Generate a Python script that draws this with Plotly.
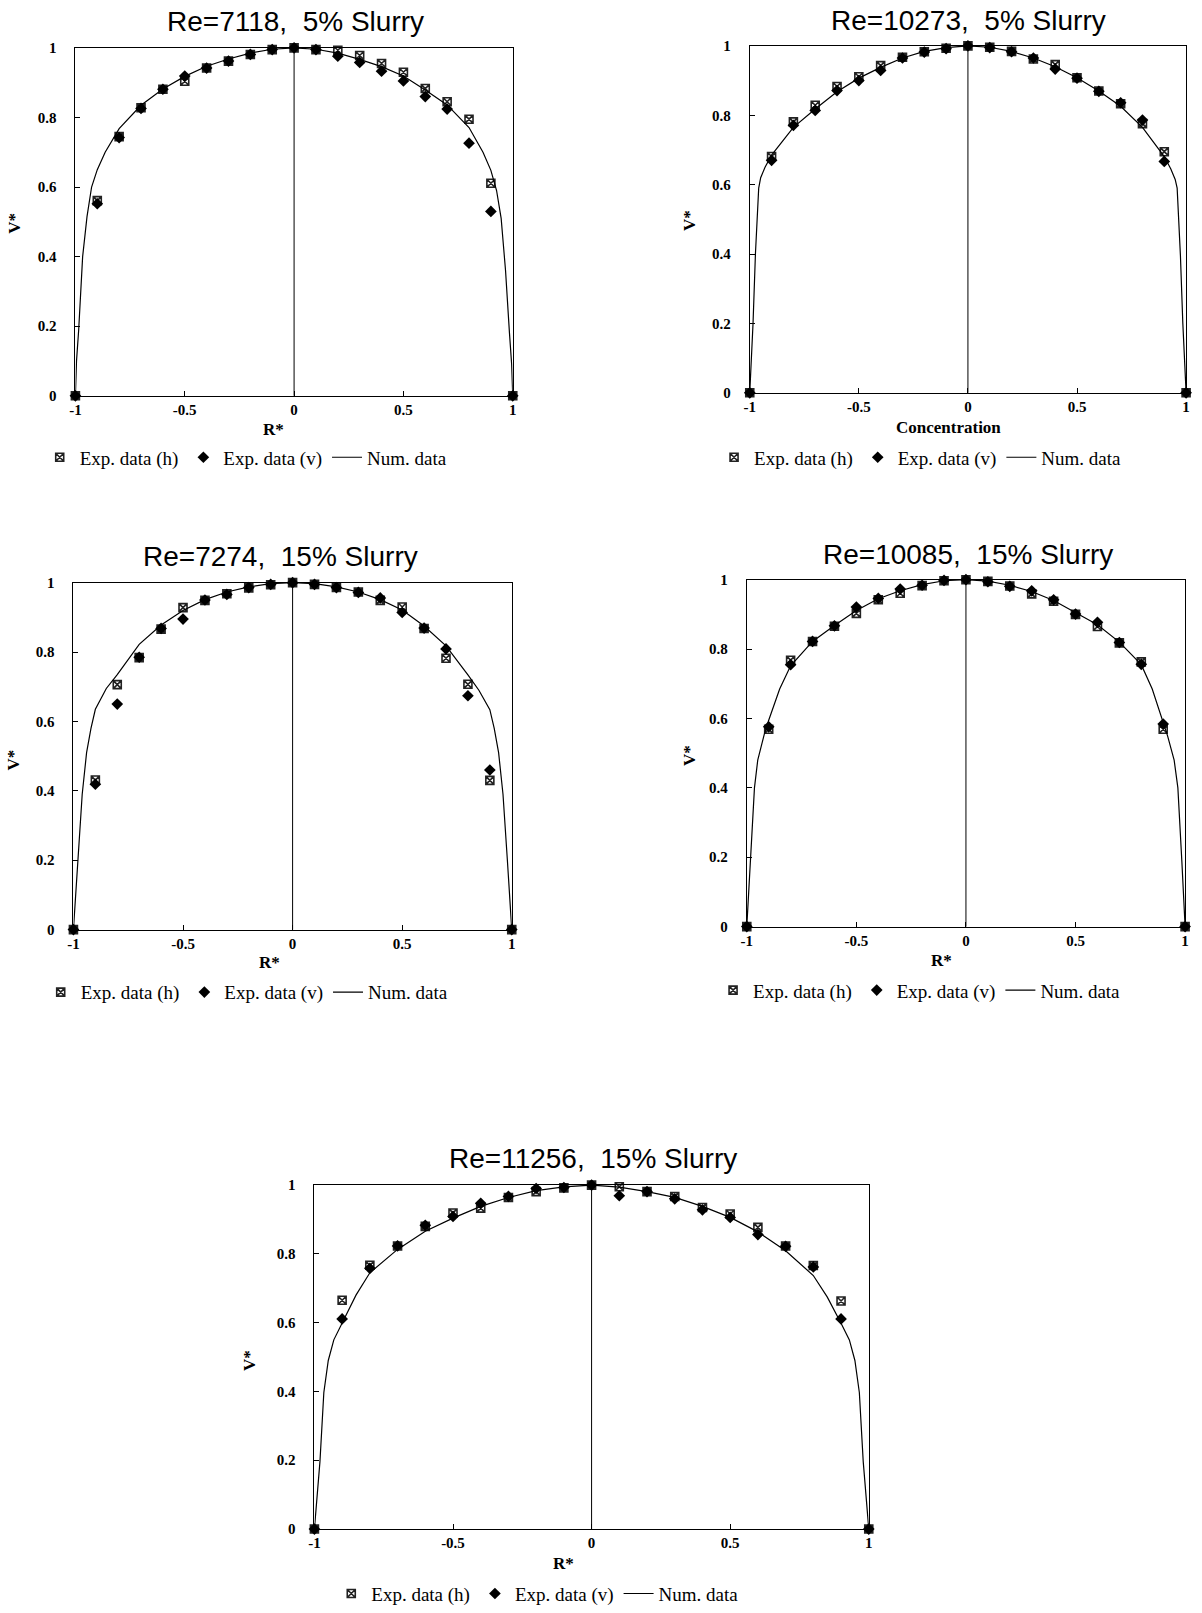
import plotly.graph_objects as go

W, H = 1202, 1613

# ---------------- data ----------------
r_exp = [-1.0, -0.9, -0.8, -0.7, -0.6, -0.5, -0.4, -0.3, -0.2, -0.1, 0.0,
         0.1, 0.2, 0.3, 0.4, 0.5, 0.6, 0.7, 0.8, 0.9, 1.0]

x_ticks = [-1, -0.5, 0, 0.5, 1]
x_ticktext = ["-1", "-0.5", "0", "0.5", "1"]
y_ticks = [0, 0.2, 0.4, 0.6, 0.8, 1]
y_ticktext = ["0", "0.2", "0.4", "0.6", "0.8", "1"]

titles = ["Re=7118,\u00a0 5% Slurry", "Re=10273,\u00a0 5% Slurry",
          "Re=7274,\u00a0 15% Slurry", "Re=10085,\u00a0 15% Slurry",
          "Re=11256,\u00a0 15% Slurry"]
x_titles = ["R*", "Concentration", "R*", "R*", "R*"]
legend_names = ["Exp. data (h)", "Exp. data (v)", "Num. data"]

# Re=7118, 5%
p1_h = [0, 0.561, 0.745, 0.828, 0.881, 0.904, 0.942, 0.962, 0.981, 0.995, 1.0,
        0.995, 0.993, 0.978, 0.955, 0.930, 0.883, 0.845, 0.795, 0.611, 0]
p1_v = [0, 0.552, 0.742, 0.826, 0.881, 0.919, 0.942, 0.962, 0.981, 0.995, 1.0,
        0.995, 0.976, 0.958, 0.933, 0.905, 0.860, 0.824, 0.726, 0.530, 0]
p1_num_x = [-1, -0.995, -0.985, -0.967, -0.947, -0.926, -0.9, -0.864, -0.8, -0.7, -0.6,
            -0.5, -0.4, -0.3, -0.2, -0.1, 0, 0.1, 0.2, 0.3, 0.4, 0.5, 0.6, 0.7, 0.8,
            0.864, 0.9, 0.926, 0.947, 0.967, 0.985, 0.995, 1]
p1_num_y = [0, 0.10, 0.19, 0.40, 0.515, 0.60, 0.65, 0.70, 0.768, 0.835, 0.882,
            0.918, 0.947, 0.968, 0.985, 0.996, 1.0, 0.996, 0.985, 0.967, 0.946, 0.919,
            0.879, 0.836, 0.771, 0.70, 0.648, 0.59, 0.51, 0.36, 0.18, 0.09, 0]

# Re=10273, 5%
p2_h = [0, 0.681, 0.781, 0.829, 0.883, 0.911, 0.943, 0.967, 0.983, 0.993, 1.0,
        0.996, 0.984, 0.962, 0.946, 0.908, 0.870, 0.833, 0.776, 0.695, 0]
p2_v = [0, 0.670, 0.771, 0.814, 0.871, 0.900, 0.929, 0.965, 0.982, 0.992, 1.0,
        0.995, 0.983, 0.965, 0.933, 0.907, 0.869, 0.836, 0.786, 0.667, 0]
p2_num_x = [-1, -0.985, -0.974, -0.959, -0.95, -0.93, -0.9, -0.8, -0.7, -0.6, -0.5,
            -0.4, -0.3, -0.2, -0.1, 0, 0.1, 0.2, 0.3, 0.4, 0.5, 0.6, 0.7, 0.8, 0.9,
            0.93, 0.95, 0.959, 0.974, 0.985, 1]
p2_num_y = [0, 0.20, 0.40, 0.59, 0.62, 0.65, 0.685, 0.765, 0.818, 0.868, 0.907,
            0.938, 0.965, 0.984, 0.995, 1.0, 0.996, 0.984, 0.965, 0.940, 0.908, 0.870,
            0.826, 0.765, 0.681, 0.645, 0.615, 0.59, 0.395, 0.20, 0]

# Re=7274, 15%
p3_h = [0, 0.431, 0.706, 0.784, 0.866, 0.928, 0.949, 0.968, 0.985, 0.994, 1.0,
        0.995, 0.986, 0.973, 0.949, 0.930, 0.868, 0.782, 0.707, 0.430, 0]
p3_v = [0, 0.419, 0.650, 0.785, 0.868, 0.895, 0.950, 0.966, 0.986, 0.995, 1.0,
        0.995, 0.986, 0.972, 0.956, 0.914, 0.869, 0.809, 0.674, 0.460, 0]
p3_num_x = [-1, -0.98, -0.96, -0.94, -0.92, -0.9, -0.85, -0.8, -0.7, -0.6, -0.5,
            -0.4, -0.3, -0.2, -0.1, 0, 0.1, 0.2, 0.3, 0.4, 0.5, 0.6, 0.7, 0.8, 0.85,
            0.9, 0.92, 0.94, 0.96, 0.98, 1]
p3_num_y = [0, 0.20, 0.39, 0.51, 0.58, 0.635, 0.695, 0.735, 0.822, 0.878, 0.920,
            0.951, 0.973, 0.988, 0.997, 1.0, 0.997, 0.988, 0.973, 0.951, 0.921, 0.875,
            0.818, 0.734, 0.69, 0.634, 0.58, 0.51, 0.39, 0.20, 0]

# Re=10085, 15%
p4_h = [0, 0.569, 0.768, 0.822, 0.866, 0.903, 0.942, 0.961, 0.983, 0.997, 1.0,
        0.995, 0.982, 0.959, 0.938, 0.900, 0.865, 0.818, 0.763, 0.569, 0]
p4_v = [0, 0.576, 0.755, 0.822, 0.867, 0.921, 0.946, 0.973, 0.984, 0.998, 1.0,
        0.994, 0.981, 0.968, 0.942, 0.901, 0.877, 0.819, 0.756, 0.584, 0]
p4_num_x = [-1, -0.985, -0.965, -0.95, -0.92, -0.9, -0.85, -0.8, -0.7, -0.6, -0.5,
            -0.4, -0.3, -0.2, -0.1, 0, 0.1, 0.2, 0.3, 0.4, 0.5, 0.6, 0.7, 0.8, 0.85,
            0.9, 0.92, 0.95, 0.967, 0.985, 1]
p4_num_y = [0, 0.19, 0.40, 0.48, 0.555, 0.595, 0.685, 0.752, 0.822, 0.868, 0.911,
            0.945, 0.968, 0.986, 0.997, 1.0, 0.996, 0.984, 0.966, 0.940, 0.905, 0.870,
            0.820, 0.755, 0.685, 0.588, 0.55, 0.48, 0.40, 0.19, 0]

# Re=11256, 15%
p5_h = [0, 0.665, 0.767, 0.823, 0.880, 0.919, 0.933, 0.964, 0.981, 0.992, 1.0,
        0.995, 0.981, 0.967, 0.935, 0.916, 0.877, 0.823, 0.766, 0.663, 0]
p5_v = [0, 0.611, 0.758, 0.823, 0.883, 0.909, 0.947, 0.967, 0.990, 0.993, 1.0,
        0.969, 0.981, 0.960, 0.928, 0.906, 0.856, 0.822, 0.762, 0.611, 0]
p5_num_x = [-1, -0.98, -0.966, -0.95, -0.93, -0.9, -0.85, -0.8, -0.7, -0.6, -0.5,
            -0.4, -0.3, -0.2, -0.1, 0, 0.1, 0.2, 0.3, 0.4, 0.5, 0.6, 0.7, 0.8, 0.85,
            0.9, 0.93, 0.95, 0.966, 0.98, 1]
p5_num_y = [0, 0.196, 0.397, 0.49, 0.55, 0.60, 0.68, 0.745, 0.813, 0.866, 0.904,
            0.938, 0.964, 0.984, 0.995, 1.0, 0.994, 0.981, 0.964, 0.938, 0.906, 0.864,
            0.809, 0.737, 0.675, 0.598, 0.55, 0.49, 0.397, 0.196, 0]

h_series = [p1_h, p2_h, p3_h, p4_h, p5_h]
v_series = [p1_v, p2_v, p3_v, p4_v, p5_v]
num_x = [p1_num_x, p2_num_x, p3_num_x, p4_num_x, p5_num_x]
num_y = [p1_num_y, p2_num_y, p3_num_y, p4_num_y, p5_num_y]

# ---------------- layout (target pixel positions) ----------------
boxes = [(70, 47, 511, 397), (750, 45, 1190, 394), (68, 585, 510, 934),
         (747, 582, 1189, 931), (311, 1191, 870, 1537)]
title_pos = [(292, 20), (971, 19), (277, 559), (970, 557), (592, 1164)]
xtitle_pos = [(270, 431), (950, 429), (266, 967), (943, 965), (562, 1572)]
ytitle_pos = [(9, 223), (690, 221), (8, 763), (689, 759), (245, 1367)]
legend_pos = [(34, 459), (714, 459), (35, 997), (713, 995), (328, 1602)]

# empirical vertical correction between requested and photographed positions
def fy(y):
    return (y - 6.9) / 0.991

SERIF = "Liberation Serif"
SANS = "Liberation Sans"

fig = go.Figure()
annotations = []
shapes = []
layout = dict(width=W, height=H, margin=dict(l=0, r=0, t=0, b=0),
              paper_bgcolor="white", plot_bgcolor="white", showlegend=True)

for i in range(5):
    n = i + 1
    sfx = "" if n == 1 else str(n)
    xa, ya = "x" + sfx, "y" + sfx
    leg = "legend" + sfx
    l, t, r, b = boxes[i]

    fig.add_trace(go.Scatter(
        x=r_exp, y=h_series[i], mode="markers", name=legend_names[0],
        xaxis=xa, yaxis=ya, legend=leg, cliponaxis=False,
        marker=dict(symbol="square-x-open", size=8, color="#222",
                    line=dict(width=1.6, color="#222"))))
    fig.add_trace(go.Scatter(
        x=r_exp, y=v_series[i], mode="markers", name=legend_names[1],
        xaxis=xa, yaxis=ya, legend=leg, cliponaxis=False,
        marker=dict(symbol="diamond", size=9, color="black")))
    fig.add_trace(go.Scatter(
        x=num_x[i], y=num_y[i], mode="lines", name=legend_names[2],
        xaxis=xa, yaxis=ya, legend=leg, cliponaxis=False,
        line=dict(color="black", width=1.2)))

    axfont = dict(family=SERIF, size=15, color="black", weight="bold")
    layout["xaxis" + sfx] = dict(
        domain=[l / W, r / W], range=[-1, 1], anchor=ya,
        tickvals=x_ticks, ticktext=x_ticktext, ticks="inside", ticklen=5,
        tickcolor="black", showline=True, mirror=True, linecolor="black",
        linewidth=1, showgrid=False, zeroline=False, tickfont=axfont,
        ticklabelstandoff=0, fixedrange=True)
    layout["yaxis" + sfx] = dict(
        domain=[1 - fy(b) / H, 1 - fy(t) / H], range=[0, 1], anchor=xa,
        tickvals=y_ticks, ticktext=y_ticktext, ticks="inside", ticklen=5,
        tickcolor="black", showline=True, mirror=True, linecolor="black",
        linewidth=1, showgrid=False, zeroline=False, tickfont=axfont,
        ticklabelstandoff=15, fixedrange=True)
    layout[leg] = dict(
        orientation="h", x=legend_pos[i][0] / W, y=1 - fy(legend_pos[i][1]) / H,
        xanchor="left", yanchor="middle", bgcolor="rgba(0,0,0,0)",
        font=dict(family=SERIF, size=19, color="black"), itemwidth=30)

    shapes.append(dict(type="line", xref=xa, yref=ya + " domain", x0=0, x1=0,
                       y0=0, y1=1, line=dict(color="black", width=1)))

    annotations.append(dict(
        text=titles[i], xref="paper", yref="paper", x=title_pos[i][0] / W,
        y=1 - fy(title_pos[i][1]) / H, xanchor="center", yanchor="middle",
        showarrow=False, font=dict(family=SANS, size=28, color="black")))
    annotations.append(dict(
        text=x_titles[i], xref="paper", yref="paper", x=xtitle_pos[i][0] / W,
        y=1 - fy(xtitle_pos[i][1]) / H, xanchor="center", yanchor="middle",
        showarrow=False,
        font=dict(family=SERIF, size=17, color="black", weight="bold")))
    annotations.append(dict(
        text="V*", xref="paper", yref="paper", x=ytitle_pos[i][0] / W,
        y=1 - fy(ytitle_pos[i][1]) / H, xanchor="center", yanchor="middle",
        textangle=-90, showarrow=False,
        font=dict(family=SERIF, size=17, color="black", weight="bold")))

layout["annotations"] = annotations
layout["shapes"] = shapes
fig.update_layout(**layout)

fig.write_html("out.html")
